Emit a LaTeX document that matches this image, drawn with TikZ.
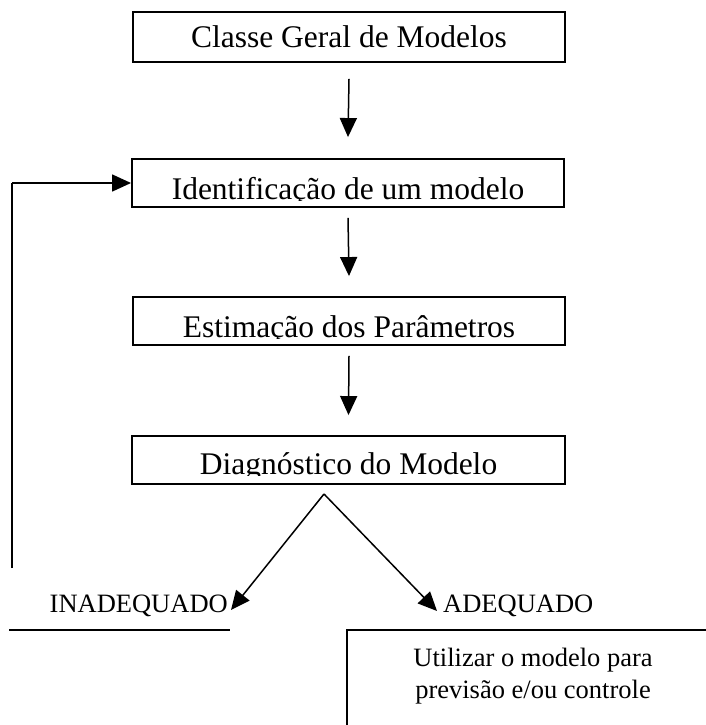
\documentclass[tikz,border=0pt]{standalone}
\usepackage{fontspec}
\setmainfont{Liberation Serif}
\usetikzlibrary{arrows.meta}
\begin{document}
\begin{tikzpicture}[x=1pt,y=-1pt,
  box/.style={draw,line width=1.9pt,rectangle,inner sep=0pt},
  conn/.style={line width=1.5pt,-{Triangle[length=19pt,width=17pt]}},
  plain/.style={line width=1.7pt},
  bigtxt/.style={font=\fontsize{31.5}{36}\selectfont,inner sep=0pt},
  smalltxt/.style={font=\fontsize{26.5}{32}\selectfont,inner sep=0pt}]
\useasboundingbox (0,0) rectangle (705,725);
% boxes
\node[box,minimum width=432pt,minimum height=50pt] (b1) at (349,37) {};
\node[box,minimum width=432pt,minimum height=48pt] (b2) at (348,183) {};
\node[box,minimum width=432pt,minimum height=48pt] (b3) at (349,321) {};
\node[box,minimum width=433pt,minimum height=48pt] (b4) at (348.5,460) {};
% texts
\node[bigtxt,anchor=base] (t1) at (349,48) {Classe Geral de Modelos};
\begin{scope}
  \clip (b2.north west) rectangle (565,200);
  \node[bigtxt,anchor=base] (t2) at (348,199) {Identificação de um modelo};
\end{scope}
\begin{scope}
  \clip (b3.north west) rectangle (566,338);
  \node[bigtxt,anchor=base] (t3) at (349,337) {Estimação dos Parâmetros};
\end{scope}
\begin{scope}
  \clip (b4.north west) rectangle (566,475);
  \node[bigtxt,anchor=base] (t4) at (348.5,474) {Diagnóstico do Modelo};
\end{scope}
% vertical arrows
\draw[conn] ([yshift=-16pt]b1.south) -- ([yshift=21pt]b2.north);
\draw[conn] ([yshift=-10pt]b2.south) -- ([yshift=20pt]b3.north);
\draw[conn] ([yshift=-10pt]b3.south) -- ([yshift=20pt]b4.north);
% decision
\coordinate (apex) at (324,494);
\node[smalltxt,anchor=base east] (ina) at (228,612) {INADEQUADO};
\node[smalltxt,anchor=base west] (ade) at (443,612) {ADEQUADO};
\draw[conn] (apex) -- (231,610);
\draw[conn] (apex) -- (437,611);
% feedback loop
\coordinate (fb0) at (12,568);
\coordinate (fb1) at (12,183);
\draw[plain] (fb0) -- (fb1);
\draw[conn] (fb1) -- (b2.west);
% lines under labels
\coordinate (l1) at (9,630);
\coordinate (l2) at (230,630);
\draw[plain] (l1) -- (l2);
\coordinate (r0) at (347,725);
\coordinate (r1) at (347,630);
\coordinate (r2) at (706,630);
\draw[plain] (r0) -- (r1) -- (r2);
\node[smalltxt,anchor=base] (u1) at (533,666) {Utilizar o modelo para};
\node[smalltxt,anchor=base] (u2) at (533,698) {previsão e/ou controle};
\end{tikzpicture}
\end{document}
